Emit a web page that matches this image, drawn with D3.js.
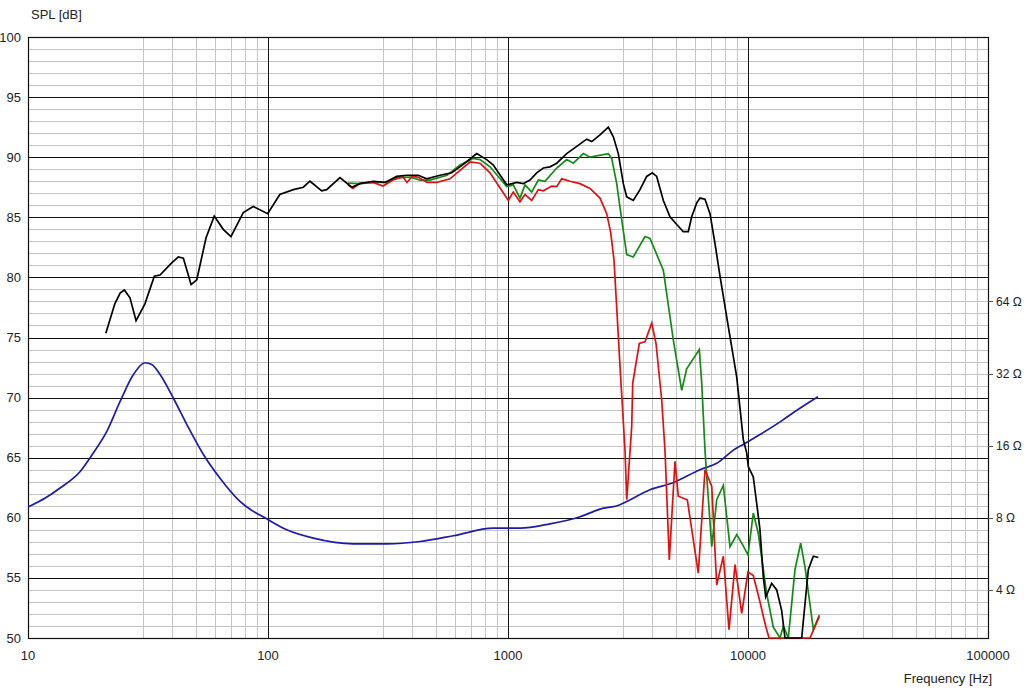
<!DOCTYPE html>
<html>
<head>
<meta charset="utf-8">
<script src="https://cdn.jsdelivr.net/npm/d3@7"></script>
<style>
  html, body { margin: 0; padding: 0; background: #fff; }
  svg { display: block; }
  text { font-family: "Liberation Sans", Arial, sans-serif; font-size: 13px; fill: #222; }
  text.ohm { font-size: 12px; }
</style>
</head>
<body>
<svg id="chart" width="1024" height="689"></svg>
<script>
// ---- Data ----
const decadeLabels = ["10", "100", "1000", "10000", "100000"];
const decadeValues = [10, 100, 1000, 10000, 100000];
const splTicks = [50, 55, 60, 65, 70, 75, 80, 85, 90, 95, 100];
const ohmTicks = [4, 8, 16, 32, 64];

// black SPL curve: frequency (Hz), level (dB)
const blackFreq = [21.1, 23.0, 24.2, 25.2, 26.6, 28.2, 30.7, 33.6, 35.5, 39.7, 42.3, 44.4, 47.8, 50.5, 55.2, 59.7, 65.1, 70.1, 78.9, 86.8, 99.7,
  112, 127.5, 140.3, 149.6, 167.4, 175.6, 199.5, 223.3, 241.7, 274.7, 307.3, 343.8, 378.5, 423, 458.4, 521, 582.8, 651.3, 740.6, 815.3, 868.5,
  987.6, 1087, 1158, 1235, 1317, 1404, 1496, 1596, 1756, 1934, 2128, 2233, 2417, 2618, 2747, 2882, 3023, 3124, 3327, 3548, 3784, 3993, 4165,
  4438, 4732, 5047, 5376, 5640, 5827, 6115, 6310, 6620, 6945, 7288, 7645, 8154, 8975, 9560, 9876, 10030, 10520, 10870, 11220, 11580, 11850,
  12550, 13170, 13810, 14260, 16740, 17840, 18720, 19630];
const blackDb = [75.35, 77.8, 78.7, 78.95, 78.3, 76.4, 77.8, 80.1, 80.2, 81.2, 81.7, 81.6, 79.4, 79.8, 83.3, 85.1, 84.0, 83.4, 85.4, 85.9, 85.3,
  86.9, 87.3, 87.5, 88.0, 87.2, 87.3, 88.3, 87.5, 87.8, 88.0, 87.9, 88.4, 88.5, 88.5, 88.2, 88.5, 88.7, 89.4, 90.3, 89.8, 89.35,
  87.7, 87.9, 87.8, 88.1, 88.7, 89.1, 89.2, 89.5, 90.3, 90.9, 91.5, 91.3, 91.85, 92.5, 91.7, 90.3, 87.8, 86.7, 86.4, 87.3, 88.4, 88.7, 88.4,
  86.4, 85.05, 84.4, 83.8, 83.8, 85.05, 86.2, 86.6, 86.5, 85.3, 82.8, 80.1, 76.7, 71.7, 66.5, 65.4, 64.25, 63.4, 61.2, 59.0, 55.1, 53.4,
  54.55, 54.0, 52.3, 50, 50, 55.7, 56.8, 56.7];

// green SPL curve
const greenFreq = [215.4, 241.7, 273.8, 313.3, 344.7, 390.6, 430, 473.2, 557, 631, 714.8, 764.5, 841.4,
  987.6, 1052, 1122, 1177, 1255, 1338, 1426, 1596, 1756, 1872, 2060, 2196, 2618, 2704, 2838, 2977, 3124, 3327, 3722, 3905,
  4438, 4884, 5294, 5552, 6268, 6415, 6620, 6750, 7062, 7407, 7892, 8414, 8975, 9532, 10000, 10520, 11040, 11960, 12750,
  13590, 14040, 14720, 15700, 16580, 17280, 18720, 19830];
const greenDb = [87.85, 87.8, 87.9, 87.9, 88.3, 88.35, 88.1, 88.1, 88.5, 89.35, 89.9, 89.8, 89.2,
  87.55, 87.7, 86.6, 87.7, 87.1, 88.1, 88.0, 89.1, 89.8, 89.5, 90.3, 90.0, 90.3, 89.9, 87.8, 84.8, 81.9, 81.7, 83.4, 83.25,
  80.6, 74.8, 70.6, 72.4, 74.0, 71.2, 65.6, 63.1, 57.6, 61.5, 62.7, 57.6, 58.6, 57.7, 56.9, 60.4, 58.7, 53.7, 50.9,
  50, 51.0, 50, 55.7, 57.9, 55.9, 50.7, 51.9];

// red SPL curve
const redFreq = [215.4, 226, 241.7, 273.8, 301.5, 331.7, 365.2, 379.6, 398.1, 421.7, 459.7, 506, 573.4, 631, 694.5, 764.5, 841.4,
  1003, 1052, 1122, 1177, 1255, 1338, 1404, 1521, 1596, 1674, 1813, 1995, 2196, 2417, 2578, 2680, 2765, 2929, 3073, 3124, 3277,
  3309, 3524, 3722, 3971, 4138, 4369, 4510, 4700, 4964, 5124, 5586, 6207, 6620, 7062, 7407, 7892, 8333, 8830, 9414, 10000,
  10520, 11220, 11770, 12230, 18130, 19830];
const redDb = [87.7, 87.4, 87.85, 87.9, 87.6, 88.1, 88.35, 87.9, 88.4, 88.35, 87.9, 87.9, 88.2, 88.9, 89.6, 89.5, 88.7,
  86.4, 87.1, 86.3, 86.9, 86.4, 87.3, 87.2, 87.6, 87.55, 88.2, 88.0, 87.8, 87.4, 86.6, 85.3, 83.7, 81.45, 72.6, 65.6, 61.5, 67.6,
  71.2, 74.5, 74.65, 76.2, 74.5, 69.8, 65.6, 56.5, 64.7, 61.8, 61.5, 55.4, 64.0, 62.6, 54.4, 56.8, 50.7, 56.1, 52.05, 55.5,
  55.2, 53.0, 51.2, 50, 50, 51.8];

// blue impedance curve: frequency (Hz), impedance (ohm)
const impFreq = [10.0, 11.8, 13.6, 16.5, 18.7, 21.3, 24.2, 27.5, 30.7, 32.8, 35.5, 40.3, 45.9, 53.8, 63.1, 76.4, 100.3, 119.7, 154.5,
  226.7, 312.4, 430, 591.8, 868.5, 1122, 1496, 1995, 2417, 2929, 3124, 3905, 4870, 6310, 7407, 8830, 9560, 11220, 13990, 14960, 19570];
const impOhm = [8.87, 9.67, 10.65, 12.49, 14.9, 18.36, 24.5, 31.7, 35.5, 34.9, 31.7, 25.3, 19.6, 14.7, 11.7, 9.36, 7.85, 7.13, 6.58,
  6.23, 6.23, 6.37, 6.73, 7.24, 7.24, 7.55, 8.08, 8.7, 9.07, 9.36, 10.48, 11.2, 12.7, 13.5, 15.5, 16.2, 17.8, 20.5, 21.5, 25.6];

// ---- Layout ----
const svg = d3.select("#chart");
const L = 28, R = 988, T = 37, B = 638;

const x = d3.scaleLog().domain([10, 100000]).range([L, R]);
const y = d3.scaleLinear().domain([50, 100]).range([B, T]);
const yImp = d3.scaleLog().base(2).domain([4, 64]).range([y(54), y(78)]);

// grid: minor vertical lines at 3..9 of each decade
const minorX = [];
for (let d = 10; d < 100000; d *= 10) for (let m = 3; m <= 9; m++) minorX.push(d * m);
const minorY = d3.range(51, 100).filter(v => v % 5 !== 0);

const grid = svg.append("g");
grid.selectAll(".mx").data(minorX).enter().append("line")
  .attr("x1", d => Math.round(x(d)) + 0.5).attr("x2", d => Math.round(x(d)) + 0.5)
  .attr("y1", T).attr("y2", B).attr("stroke", "#c4c4c4").attr("stroke-width", 1);
grid.selectAll(".my").data(minorY).enter().append("line")
  .attr("x1", L).attr("x2", R)
  .attr("y1", d => Math.round(y(d)) + 0.5).attr("y2", d => Math.round(y(d)) + 0.5)
  .attr("stroke", "#c4c4c4").attr("stroke-width", 1);
grid.selectAll(".My").data(splTicks).enter().append("line")
  .attr("x1", L).attr("x2", R)
  .attr("y1", d => Math.round(y(d)) + 0.5).attr("y2", d => Math.round(y(d)) + 0.5)
  .attr("stroke", "#111").attr("stroke-width", 1);
grid.selectAll(".Mx").data(decadeValues).enter().append("line")
  .attr("x1", d => Math.round(x(d)) + 0.5).attr("x2", d => Math.round(x(d)) + 0.5)
  .attr("y1", T).attr("y2", B).attr("stroke", "#111").attr("stroke-width", 1);

// frame
svg.append("rect").attr("x", L + 0.5).attr("y", T + 0.5).attr("width", R - L).attr("height", B - T)
  .attr("fill", "none").attr("stroke", "#111").attr("stroke-width", 1.2);

// left axis labels
svg.append("g").selectAll("text").data(splTicks).enter().append("text")
  .attr("x", 21).attr("y", d => y(d) + 4.5).attr("text-anchor", "end").text(d => d);
svg.append("text").attr("x", 31).attr("y", 19).text("SPL [dB]");

// bottom labels
svg.append("g").selectAll("text").data(decadeValues).enter().append("text")
  .attr("x", d => x(d)).attr("y", 660).attr("text-anchor", "middle").text((d, i) => decadeLabels[i]);
svg.append("text").attr("x", 992).attr("y", 683).attr("text-anchor", "end").text("Frequency [Hz]");

// right impedance axis
const ra = svg.append("g");
ra.selectAll("line").data(ohmTicks).enter().append("line")
  .attr("x1", R).attr("x2", R + 5).attr("y1", d => Math.round(yImp(d)) + 0.5).attr("y2", d => Math.round(yImp(d)) + 0.5)
  .attr("stroke", "#555");
ra.selectAll("text").data(ohmTicks).enter().append("text")
  .attr("class", "ohm")
  .attr("x", 996).attr("y", d => yImp(d) + 4.5).text(d => d + " \u03A9");

// curves
const lineSpl = (fs, vs) => d3.line().x((d, i) => x(fs[i])).y((d, i) => y(vs[i]))(vs);
const lineImp = d3.line().curve(d3.curveMonotoneX).x((d, i) => x(impFreq[i])).y((d, i) => yImp(impOhm[i]));

const plot = svg.append("g");
plot.append("path").attr("d", lineImp(impOhm)).attr("fill", "none").attr("stroke", "#1c1ca8").attr("stroke-width", 1.7);
plot.append("path").attr("d", lineSpl(greenFreq, greenDb)).attr("fill", "none").attr("stroke", "#138a13").attr("stroke-width", 1.7);
plot.append("path").attr("d", lineSpl(redFreq, redDb)).attr("fill", "none").attr("stroke", "#e01010").attr("stroke-width", 1.7);
plot.append("path").attr("d", lineSpl(blackFreq, blackDb)).attr("fill", "none").attr("stroke", "#000").attr("stroke-width", 1.7);
</script>
</body>
</html>
